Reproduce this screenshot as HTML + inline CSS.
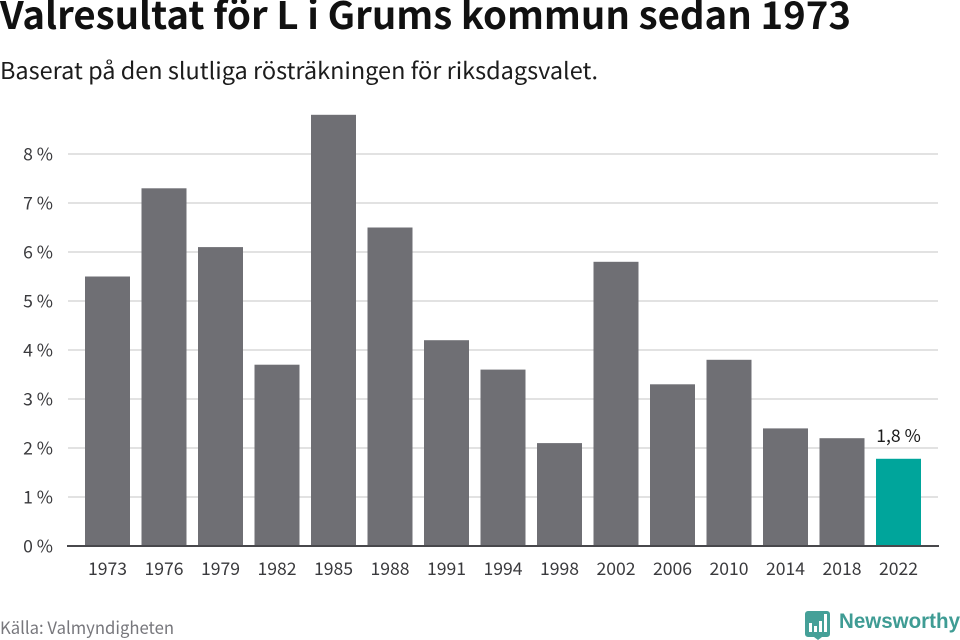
<!DOCTYPE html>
<html lang="sv">
<head>
<meta charset="utf-8">
<title>Valresultat för L i Grums kommun sedan 1973</title>
<style>
html,body{margin:0;padding:0;background:#fff;}
svg{display:block;font-family:"Noto Sans CJK SC","Liberation Sans",sans-serif;}
</style>
</head>
<body>
<svg id="chart" xmlns="http://www.w3.org/2000/svg" width="960" height="640" viewBox="0 0 960 640">
  <rect width="960" height="640" fill="#fff"/>
  <text x="0" y="29" font-size="38" font-weight="700" fill="#111111" textLength="851" lengthAdjust="spacingAndGlyphs">Valresultat för L i Grums kommun sedan 1973</text>
  <text x="0" y="79" font-size="23" fill="#1c1c1c" textLength="598" lengthAdjust="spacingAndGlyphs">Baserat på den slutliga rösträkningen för riksdagsvalet.</text>
  <g id="grid"></g>
  <g id="yticks"></g>
  <g id="bars"></g>
  <line x1="67" y1="546" x2="939" y2="546" stroke="#48484c" stroke-width="2"/>
  <g id="xticks"></g>
  <g id="labels"></g>
  <text x="0" y="634" font-size="17" fill="#77777c" textLength="174" lengthAdjust="spacingAndGlyphs">Källa: Valmyndigheten</text>
  <g>
    <path d="M808 611h19a3 3 0 0 1 3 3v20a3 3 0 0 1-3 3h-5l-4 3-4-3h-6a3 3 0 0 1-3-3v-20a3 3 0 0 1 3-3z" fill="#45a098"/>
    <rect x="809" y="623" width="3" height="9" fill="#fff"/>
    <rect x="814" y="626" width="3" height="6" fill="#fff"/>
    <rect x="819" y="621" width="3" height="11" fill="#fff"/>
    <rect x="824" y="614" width="3" height="18" fill="#fff"/>
    <text x="839" y="628" font-family="Liberation Sans" font-size="21" font-weight="700" fill="#3f9c94" textLength="121" lengthAdjust="spacingAndGlyphs">Newsworthy</text>
  </g>
</svg>
<script>
const categories = ["1973","1976","1979","1982","1985","1988","1991","1994","1998","2002","2006","2010","2014","2018","2022"];
const seriesValues = [5.5,7.3,6.1,3.7,8.8,6.5,4.2,3.6,2.1,5.8,3.3,3.8,2.4,2.2,1.78];
const tickValues = [0,1,2,3,4,5,6,7,8];
const tickLabels = ["0 %","1 %","2 %","3 %","4 %","5 %","6 %","7 %","8 %"];
const highlightedValueLabels = {"2022":"1,8 %"};

const NS = 'http://www.w3.org/2000/svg';
const plotLeft = 68, plotRight = 938, plotBaseY = 546, unitHeight = 49;
const firstCenter = 107.5, bandStep = 56.5, barWidth = 45;
const labelFontSize = 17.6;
function yScale(v){ return plotBaseY - v * unitHeight; }
function xScale(i){ return firstCenter + i * bandStep; }
function make(tag, attrs, text){
  const el = document.createElementNS(NS, tag);
  for (const k in attrs) el.setAttribute(k, attrs[k]);
  if (text !== undefined) el.textContent = text;
  return el;
}
const grid = document.getElementById('grid');
const yticks = document.getElementById('yticks');
const bars = document.getElementById('bars');
const xticks = document.getElementById('xticks');
const labels = document.getElementById('labels');

tickValues.forEach(function(v, i){
  if (v !== 0) {
    const line = make('line', {x1: plotLeft, x2: plotRight, y1: yScale(v), y2: yScale(v), stroke: '#e2e2e2', 'stroke-width': 2});
    
    
    grid.appendChild(line);
  }
  const t = make('text', {x: 53, y: yScale(v) + 6.5, 'text-anchor': 'end', 'font-size': labelFontSize, fill: '#3a3a3d'}, tickLabels[i]);
  
  
  yticks.appendChild(t);
});

categories.forEach(function(c, i){
  const v = seriesValues[i];
  const isLast = i === categories.length - 1;
  const r = make('rect', {x: xScale(i) - barWidth / 2, y: yScale(v), width: barWidth, height: plotBaseY - yScale(v), fill: isLast ? '#00a59b' : '#6f6f74'});
  
  
  bars.appendChild(r);

  const t = make('text', {x: xScale(i), y: 575, 'text-anchor': 'middle', 'font-size': labelFontSize, fill: '#3a3a3d'}, c);
  
  
  xticks.appendChild(t);

  if (highlightedValueLabels[c]) {
    const l = make('text', {x: xScale(i), y: yScale(v) - 17, 'text-anchor': 'middle', 'font-size': labelFontSize, fill: '#1c1c1c'}, highlightedValueLabels[c]);
    
    
    labels.appendChild(l);
  }
});
</script>
</body>
</html>
